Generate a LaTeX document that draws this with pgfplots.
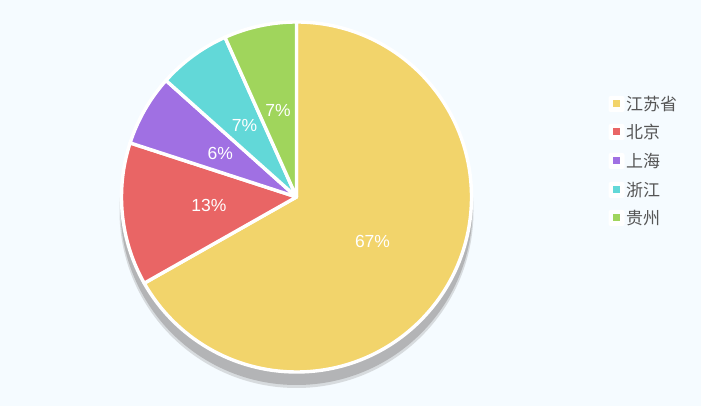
\documentclass[border=0pt]{standalone}
\usepackage{pgfplots}
\pgfplotsset{compat=1.18}
\usepackage{fontspec}
\setmainfont{Liberation Sans}
\newfontfamily\cjk{Noto Sans CJK SC}
\definecolor{bg}{HTML}{F5FBFF}
\definecolor{cJS}{HTML}{F2D46B}
\definecolor{cBJ}{HTML}{E96565}
\definecolor{cSH}{HTML}{A070E3}
\definecolor{cZJ}{HTML}{62D8D8}
\definecolor{cGZ}{HTML}{A0D55C}
\definecolor{shadow}{HTML}{B3B4B6}
\definecolor{legtext}{HTML}{555555}
\newcommand\labfont{\fontsize{17.5}{20}\selectfont}
\newcommand\legfont{\cjk\fontsize{17}{20}\selectfont}
\begin{document}
\begin{tikzpicture}
\begin{axis}[scale only axis, width=701pt, height=406pt,
  xmin=0, xmax=701, ymin=0, ymax=406, hide axis, clip=false]
\fill[bg] (axis cs:0,0) rectangle (axis cs:701,406);
% shadow
\fill[shadow!45!bg] (axis cs:296.5,195) circle[radius=177pt];
\fill[shadow] (axis cs:296.5,197) circle[radius=176pt];
% pie slices: value / colour / label
\foreach \v/\c/\lab [remember=\e as \s (initially 90)] in
  {66.8/cJS/67, 13.2/cBJ/13, 6.6/cSH/6, 6.7/cZJ/7, 6.7/cGZ/7}{
  \pgfmathsetmacro\e{\s-\v*3.6}
  \pgfmathsetmacro\m{(\s+\e)/2}
  \pgfmathsetmacro\lx{296.5+88*cos(\m)}
  \pgfmathsetmacro\ly{209+88*sin(\m)}
  \edef\temp{\noexpand\filldraw[fill=\c, draw=white, line width=3.4pt, line join=round]
    (axis cs:296.5,209) -- ++(\s:175pt) arc[start angle=\s, end angle=\e, radius=175pt] -- cycle;
    \noexpand\node[text=white, font=\noexpand\labfont, inner sep=0pt] at (axis cs:\lx,\ly) {\lab\noexpand\%};}
  \temp
}
% legend
\foreach \y/\c/\t in {302/cJS/江苏省, 274/cBJ/北京, 245/cSH/上海, 216/cZJ/浙江, 188/cGZ/贵州}{
  \edef\temp{\noexpand\fill[white, rounded corners=2pt] (axis cs:608.5,\y-8) rectangle (axis cs:624.5,\y+8);
  \noexpand\fill[\c] (axis cs:613,\y-3.5) rectangle (axis cs:620,\y+3.5);
  \noexpand\node[anchor=west, text=legtext, font=\noexpand\legfont, inner sep=0pt] at (axis cs:626,\y) {\t};}
  \temp
}
\end{axis}
\end{tikzpicture}
\end{document}
